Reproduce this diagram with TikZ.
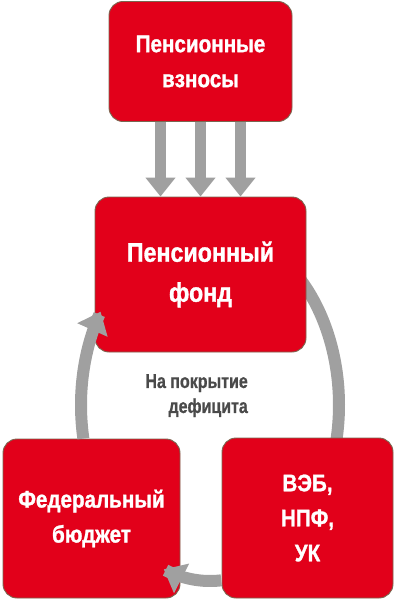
\documentclass[tikz,border=0pt]{standalone}
\usepackage{fontspec}
\usetikzlibrary{arrows.meta}
\newfontfamily\condfont{Liberation Sans Bold}[FakeStretch=0.86,FakeBold=1.2]
\newfontfamily\labelfont{Liberation Sans Bold}[FakeStretch=0.8,FakeBold=0.8]
\definecolor{boxred}{HTML}{E2001A}
\definecolor{boxedge}{HTML}{7A6650}
\definecolor{flowgray}{HTML}{A0A0A0}
\definecolor{labelgray}{HTML}{4A4A4A}
\tikzset{
  redbox/.style={draw=boxedge, line width=0.9pt, fill=boxred, rounded corners=14pt,
    text=white, align=center, inner sep=0pt,
    font=\condfont\fontsize{24}{35}\selectfont},
  downarr/.style={draw=flowgray, line width=11pt,
    -{Triangle[length=19pt,width=29pt]}},
  ringline/.style={draw=flowgray, line width=12pt},
  ringarr/.style={draw=flowgray, line width=12pt,
    -{Triangle[length=20pt,width=32pt]}},
}
\begin{document}
\begin{tikzpicture}[x=1pt,y=-1pt]
\useasboundingbox (0,0) rectangle (400,602);
% right arc (hidden ends under boxes)
\draw[ringline] plot[domain=-50:20, samples=60, smooth] ({210+129*cos(\x)},{405+176*sin(\x)});
% boxes
\node[redbox, minimum width=183pt, minimum height=120pt] (top) at (200.5,61.5) {Пенсионные\\взносы};
\node[redbox, minimum width=211pt, minimum height=155pt, font=\condfont\fontsize{27}{40}\selectfont] (fund) at (200.5,274.5) {Пенсионный\\фонд};
\node[redbox, minimum width=177pt, minimum height=159pt] (fed) at (91.5,518.5) {Федеральный\\бюджет};
\node[redbox, minimum width=171pt, minimum height=160pt] (veb) at (307.5,518) {ВЭБ,\\НПФ,\\УК};
% vertical arrows
\draw[downarr] ([xshift=-40pt]top.south) -- ([xshift=-40pt]fund.north);
\draw[downarr] (top.south) -- (fund.north);
\draw[downarr] ([xshift=40pt]top.south) -- ([xshift=40pt]fund.north);
% curved arrows
\draw[ringarr] plot[domain=169:212, samples=40] ({210+129*cos(\x)},{405+176*sin(\x)});
\draw[ringarr] plot[domain=85:111, samples=30] ({210+129*cos(\x)},{405+176*sin(\x)});
% label
\node[text=labelgray, align=right, inner sep=0pt, anchor=north east,
  font=\labelfont\fontsize{20}{25}\selectfont] (lbl) at (248,374) {На покрытие\\дефицита};
\end{tikzpicture}
\end{document}
